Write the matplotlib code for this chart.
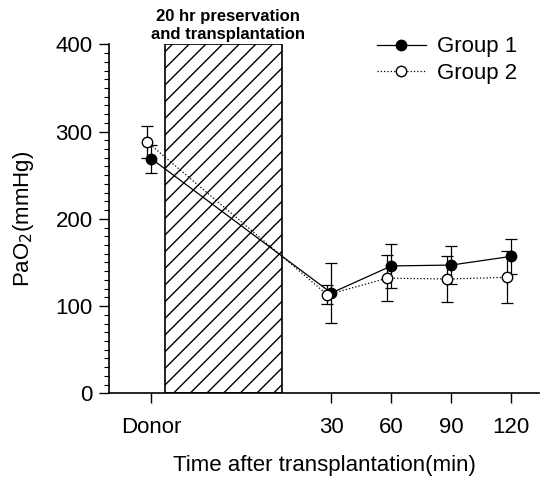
import numpy as np
import matplotlib.pyplot as plt
from matplotlib.patches import Rectangle
from matplotlib.ticker import MultipleLocator

plt.rcParams['font.family'] = ['Liberation Sans', 'DejaVu Sans']

# time points (min); donor value is plotted at -60
times = [-60, 30, 60, 90, 120]
tick_labels = ['Donor', '30', '60', '90', '120']

g1_mean = [269, 115, 146, 147, 157]
g1_sd = [16, 34, 25, 22, 20]
g2_mean = [288, 113, 132, 131, 133]
g2_sd = [18, 11, 26, 26, 30]

# preservation / transplantation period shown as a hatched block
block_start, block_end = -53, 5.5
block_top = 400

fig = plt.figure(figsize=(5.45, 4.8), dpi=100)
ax = fig.add_axes([0.2006, 0.1806, 0.789, 0.727])

ax.add_patch(Rectangle((block_start, 0), block_end - block_start, block_top,
                       facecolor='white', edgecolor='black', hatch='//',
                       linewidth=1.2, zorder=1))

t = np.array(times, dtype=float)
ax.errorbar(t, g1_mean, yerr=g1_sd, color='black', lw=0.9, ls='-',
            marker='o', ms=7.5, mfc='black', mec='black',
            ecolor='black', elinewidth=0.9, capsize=4, capthick=0.9,
            label='Group 1', zorder=3)
ax.errorbar(t - 2, g2_mean, yerr=g2_sd, color='black', lw=0.9, ls=':',
            marker='o', ms=7.5, mfc='white', mec='black',
            ecolor='black', elinewidth=0.9, capsize=4, capthick=0.9,
            label='Group 2', zorder=4)

ax.set_xlim(-81, 134)
ax.set_ylim(0, 400)
ax.set_xticks(times)
ax.set_xticklabels(tick_labels)
ax.yaxis.set_major_locator(MultipleLocator(100))
ax.yaxis.set_minor_locator(MultipleLocator(10))

for s in ['top', 'right']:
    ax.spines[s].set_visible(False)
for s in ['left', 'bottom']:
    ax.spines[s].set_linewidth(1.2)

ax.tick_params(axis='both', which='major', direction='out', length=7,
               width=1.0, labelsize=16, pad=5)
ax.tick_params(axis='y', which='minor', direction='out', length=3.5, width=0.8)
ax.tick_params(axis='x', which='major', pad=10)

ax.set_xlabel('Time after transplantation(min)', fontsize=16, labelpad=12)
ax.set_ylabel('PaO$_2$(mmHg)', fontsize=16, labelpad=14)

ax.text((block_start + block_end) / 2 + 2, 403,
        '20 hr preservation\nand transplantation',
        ha='center', va='bottom', fontsize=12, fontweight='bold',
        linespacing=1.25)

handles, labels = ax.get_legend_handles_labels()
handles = [h[0] for h in handles]
ax.legend(handles, labels, loc='upper right', bbox_to_anchor=(0.995, 1.08),
          frameon=False, fontsize=16, handlelength=2.2, handletextpad=0.5,
          labelspacing=0.25)

fig.savefig('out.png', dpi=100)
